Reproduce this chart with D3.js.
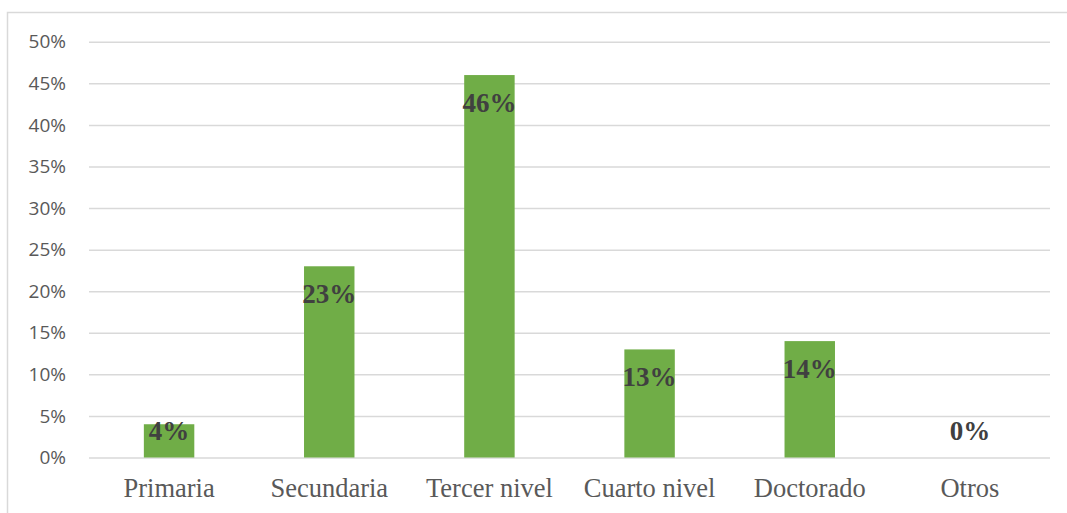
<!DOCTYPE html>
<html>
<head>
<meta charset="utf-8">
<script src="https://cdn.jsdelivr.net/npm/d3@7/dist/d3.min.js"></script>
<style>
  html, body { margin: 0; padding: 0; background: #fff; }
  svg { display: block; }
</style>
</head>
<body>
<svg id="chart" width="1067" height="513"></svg>
<script>
// Nivel de estudios
const categories = ["Primaria", "Secundaria", "Tercer nivel", "Cuarto nivel", "Doctorado", "Otros"];
const values = [0.04, 0.23, 0.46, 0.13, 0.14, 0.00];
const tickValues = [0, 0.05, 0.10, 0.15, 0.20, 0.25, 0.30, 0.35, 0.40, 0.45, 0.50];

const svg = d3.select("#chart");
const W = 1067, H = 513;
const plot = { left: 89, right: 1050, top: 41.8, bottom: 457.5 };

// chart frame (top and left edges visible)
svg.append("path")
  .attr("d", `M7.5,${H + 2} V12.5 H${W + 2}`)
  .attr("fill", "none")
  .attr("stroke", "#d9d9d9")
  .attr("stroke-width", 1.5);

const x = d3.scaleBand()
  .domain(categories)
  .range([plot.left, plot.right])
  .paddingInner(0.685)
  .paddingOuter(0.3425);

const y = d3.scaleLinear()
  .domain([0, 0.5])
  .range([plot.bottom, plot.top]);

// gridlines + y labels
const yAxis = d3.axisLeft(y)
  .tickValues(tickValues)
  .tickSize(-(plot.right - plot.left))
  .tickPadding(23)
  .tickFormat(d3.format(".0%"));

const gy = svg.append("g")
  .attr("transform", `translate(${plot.left},0)`)
  .call(yAxis);
gy.select(".domain").remove();
gy.selectAll(".tick line").attr("stroke", "#d9d9d9").attr("stroke-width", 1.5);
gy.selectAll(".tick text")
  .attr("fill", "#595959")
  .attr("font-family", "'Open Sans', sans-serif")
  .attr("font-size", 19);

// bars
svg.append("g").selectAll("rect")
  .data(values)
  .join("rect")
  .attr("x", (d, i) => x(categories[i]))
  .attr("width", x.bandwidth())
  .attr("y", d => y(d))
  .attr("height", d => y(0) - y(d))
  .attr("fill", "#70ad47");

// x labels
const xAxis = d3.axisBottom(x).tickSize(0).tickPadding(21);
const gx = svg.append("g")
  .attr("transform", `translate(0,${plot.bottom})`)
  .call(xAxis);
gx.select(".domain").remove();
gx.selectAll(".tick text")
  .attr("fill", "#595959")
  .attr("font-family", "'Liberation Serif', 'Times New Roman', serif")
  .attr("font-size", 26.5);

// value labels
svg.append("g").selectAll("text")
  .data(values)
  .join("text")
  .attr("x", (d, i) => x(categories[i]) + x.bandwidth() / 2)
  .attr("y", d => Math.min(y(d) + 37, y(0) - 18))
  .attr("text-anchor", "middle")
  .attr("fill", "#404040")
  .attr("font-family", "'Liberation Serif', 'Times New Roman', serif")
  .attr("font-weight", "bold")
  .attr("font-size", 27)
  .text(d => d3.format(".0%")(d));
</script>
</body>
</html>
